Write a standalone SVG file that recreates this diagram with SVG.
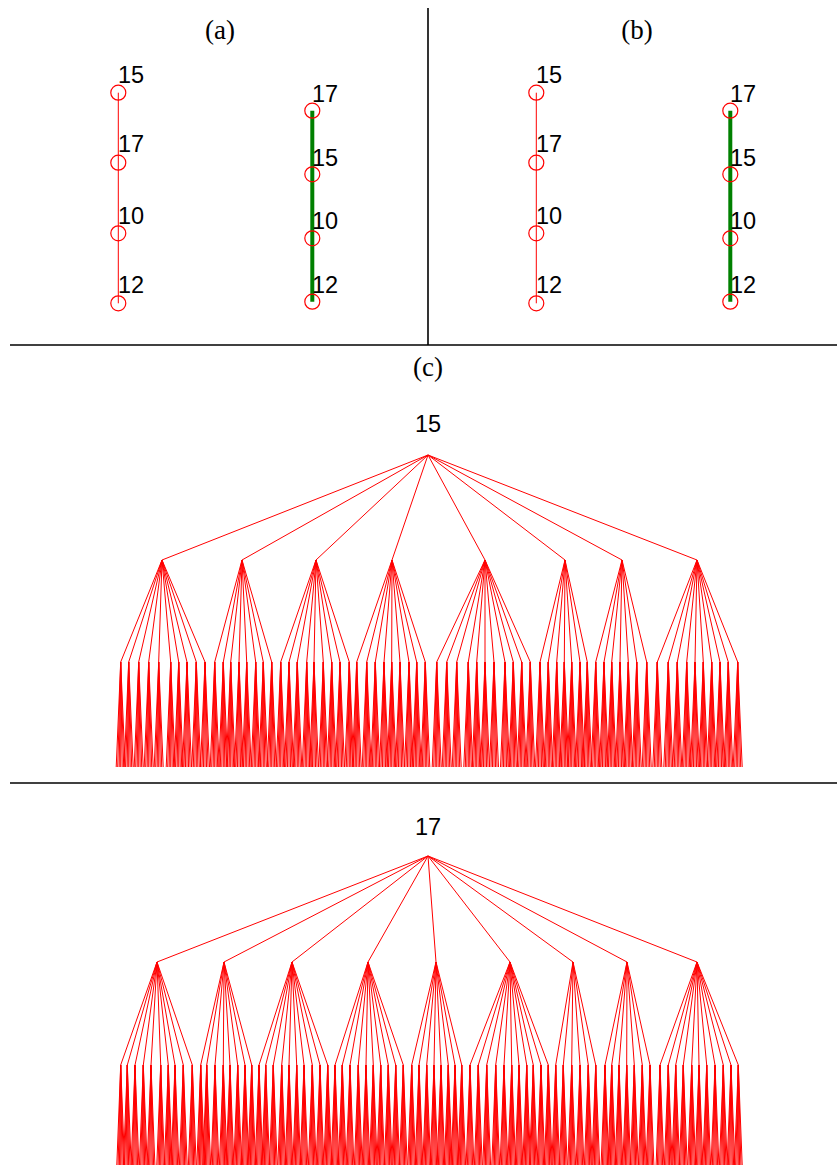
<svg xmlns="http://www.w3.org/2000/svg" xmlns:xlink="http://www.w3.org/1999/xlink" width="837" height="1166" viewBox="0 0 837 1166">
<style>
.bg{fill:#fff}
.div{stroke:#000;stroke-width:1.6;fill:none}
.cap{font-family:"Liberation Serif","Times New Roman",serif;font-size:27px;fill:#000;text-anchor:middle}
.lbl{font-family:"Liberation Sans",Arial,sans-serif;font-size:23.5px;fill:#000}
.root{font-family:"Liberation Sans",Arial,sans-serif;font-size:23.5px;fill:#000;text-anchor:middle}
.nd{fill:none;stroke:#ff0000;stroke-width:1.2}
.thin{stroke:#ff0000;stroke-width:1;fill:none}
.path{stroke:#008000;stroke-width:4;fill:none}
.e{stroke:#ff0000;stroke-width:1;fill:none}
</style>
<defs>
<path id="fanTop" class="e" d="M0 0L-4.5 105M0 0L-3 105M0 0L-1.5 105M0 0L0 105M0 0L1.5 105M0 0L3 105M0 0L4.5 105"/>
<path id="fanBot" class="e" d="M0 0L-3.9 100M0 0L-2.6 100M0 0L-1.3 100M0 0L0 100M0 0L1.3 100M0 0L2.6 100M0 0L3.9 100"/>
</defs>
<rect class="bg" x="0" y="0" width="837" height="1166"/>
<g id="dividers">
<line class="div" x1="428" y1="8" x2="428" y2="345"/>
<line class="div" x1="10" y1="345" x2="837" y2="345"/>
<line class="div" x1="10" y1="783" x2="837" y2="783"/>
</g>
<g id="captions">
<text class="cap" x="220" y="39">(a)</text>
<text class="cap" x="637" y="39">(b)</text>
<text class="cap" x="428" y="376">(c)</text>
</g>
<g id="connectors">
<line class="thin" x1="118.3" y1="92.7" x2="118.3" y2="303.3"/>
<line class="path" x1="312.3" y1="110.7" x2="312.3" y2="301.7"/>
<line class="thin" x1="536.3" y1="92.7" x2="536.3" y2="303.3"/>
<line class="path" x1="730.3" y1="110.7" x2="730.3" y2="301.7"/>
<path class="e" d="M428 455L162 560M428 455L242 560M428 455L316 560M428 455L392 560M428 455L485 560M428 455L565 560M428 455L622 560M428 455L697 560
M162 560L120.7 662M162 560L128.7 662M162 560L138.7 662M162 560L148.7 662M162 560L158.7 662M162 560L170.7 662M162 560L178.7 662M162 560L187 662M162 560L196.3 662M162 560L205 662
M242 560L214.7 662M242 560L223.3 662M242 560L230.7 662M242 560L239 662M242 560L246.7 662M242 560L255.7 662M242 560L263.3 662M242 560L271.7 662
M316 560L280.7 662M316 560L289 662M316 560L297.3 662M316 560L306.7 662M316 560L314 662M316 560L323.3 662M316 560L331.7 662M316 560L340 662M316 560L349.3 662
M392 560L356.7 662M392 560L366.7 662M392 560L375.3 662M392 560L384 662M392 560L391.7 662M392 560L400 662M392 560L409 662M392 560L416.7 662M392 560L425.3 662
M485 560L436.7 662M485 560L446.7 662M485 560L456.7 662M485 560L468.3 662M485 560L476.7 662M485 560L485 662M485 560L494 662M485 560L505 662M485 560L513.3 662M485 560L521.7 662M485 560L530.3 662
M565 560L540 662M565 560L548.3 662M565 560L556.7 662M565 560L564.3 662M565 560L571.7 662M565 560L580 662M565 560L587.3 662
M622 560L595.7 662M622 560L604 662M622 560L611.7 662M622 560L620 662M622 560L628.3 662M622 560L636.7 662M622 560L646.7 662
M697 560L657.3 662M697 560L668.3 662M697 560L677.3 662M697 560L686.7 662M697 560L695 662M697 560L703.3 662M697 560L711.7 662M697 560L720 662M697 560L728.3 662M697 560L737.7 662"/>
<g id="fans-top">
<use xlink:href="#fanTop" x="120.7" y="662"/><use xlink:href="#fanTop" x="128.7" y="662"/><use xlink:href="#fanTop" x="138.7" y="662"/><use xlink:href="#fanTop" x="148.7" y="662"/><use xlink:href="#fanTop" x="158.7" y="662"/><use xlink:href="#fanTop" x="170.7" y="662"/><use xlink:href="#fanTop" x="178.7" y="662"/><use xlink:href="#fanTop" x="187" y="662"/><use xlink:href="#fanTop" x="196.3" y="662"/><use xlink:href="#fanTop" x="205" y="662"/>
<use xlink:href="#fanTop" x="214.7" y="662"/><use xlink:href="#fanTop" x="223.3" y="662"/><use xlink:href="#fanTop" x="230.7" y="662"/><use xlink:href="#fanTop" x="239" y="662"/><use xlink:href="#fanTop" x="246.7" y="662"/><use xlink:href="#fanTop" x="255.7" y="662"/><use xlink:href="#fanTop" x="263.3" y="662"/><use xlink:href="#fanTop" x="271.7" y="662"/>
<use xlink:href="#fanTop" x="280.7" y="662"/><use xlink:href="#fanTop" x="289" y="662"/><use xlink:href="#fanTop" x="297.3" y="662"/><use xlink:href="#fanTop" x="306.7" y="662"/><use xlink:href="#fanTop" x="314" y="662"/><use xlink:href="#fanTop" x="323.3" y="662"/><use xlink:href="#fanTop" x="331.7" y="662"/><use xlink:href="#fanTop" x="340" y="662"/><use xlink:href="#fanTop" x="349.3" y="662"/>
<use xlink:href="#fanTop" x="356.7" y="662"/><use xlink:href="#fanTop" x="366.7" y="662"/><use xlink:href="#fanTop" x="375.3" y="662"/><use xlink:href="#fanTop" x="384" y="662"/><use xlink:href="#fanTop" x="391.7" y="662"/><use xlink:href="#fanTop" x="400" y="662"/><use xlink:href="#fanTop" x="409" y="662"/><use xlink:href="#fanTop" x="416.7" y="662"/><use xlink:href="#fanTop" x="425.3" y="662"/>
<use xlink:href="#fanTop" x="436.7" y="662"/><use xlink:href="#fanTop" x="446.7" y="662"/><use xlink:href="#fanTop" x="456.7" y="662"/><use xlink:href="#fanTop" x="468.3" y="662"/><use xlink:href="#fanTop" x="476.7" y="662"/><use xlink:href="#fanTop" x="485" y="662"/><use xlink:href="#fanTop" x="494" y="662"/><use xlink:href="#fanTop" x="505" y="662"/><use xlink:href="#fanTop" x="513.3" y="662"/><use xlink:href="#fanTop" x="521.7" y="662"/><use xlink:href="#fanTop" x="530.3" y="662"/>
<use xlink:href="#fanTop" x="540" y="662"/><use xlink:href="#fanTop" x="548.3" y="662"/><use xlink:href="#fanTop" x="556.7" y="662"/><use xlink:href="#fanTop" x="564.3" y="662"/><use xlink:href="#fanTop" x="571.7" y="662"/><use xlink:href="#fanTop" x="580" y="662"/><use xlink:href="#fanTop" x="587.3" y="662"/>
<use xlink:href="#fanTop" x="595.7" y="662"/><use xlink:href="#fanTop" x="604" y="662"/><use xlink:href="#fanTop" x="611.7" y="662"/><use xlink:href="#fanTop" x="620" y="662"/><use xlink:href="#fanTop" x="628.3" y="662"/><use xlink:href="#fanTop" x="636.7" y="662"/><use xlink:href="#fanTop" x="646.7" y="662"/>
<use xlink:href="#fanTop" x="657.3" y="662"/><use xlink:href="#fanTop" x="668.3" y="662"/><use xlink:href="#fanTop" x="677.3" y="662"/><use xlink:href="#fanTop" x="686.7" y="662"/><use xlink:href="#fanTop" x="695" y="662"/><use xlink:href="#fanTop" x="703.3" y="662"/><use xlink:href="#fanTop" x="711.7" y="662"/><use xlink:href="#fanTop" x="720" y="662"/><use xlink:href="#fanTop" x="728.3" y="662"/><use xlink:href="#fanTop" x="737.7" y="662"/>
</g>
<path class="e" d="M428 856L157 962M428 856L224 962M428 856L292 962M428 856L368 962M428 856L436 962M428 856L510 962M428 856L573 962M428 856L627 962M428 856L697 962
M157 962L120.7 1065M157 962L127.3 1065M157 962L135 1065M157 962L143.3 1065M157 962L151 1065M157 962L160.7 1065M157 962L168.3 1065M157 962L175 1065M157 962L183.3 1065M157 962L192.3 1065
M224 962L200.7 1065M224 962L206.7 1065M224 962L215 1065M224 962L223.3 1065M224 962L230 1065M224 962L237.7 1065M224 962L245 1065M224 962L251.7 1065
M292 962L259 1065M292 962L265.7 1065M292 962L273.3 1065M292 962L281.7 1065M292 962L289 1065M292 962L296.7 1065M292 962L304 1065M292 962L312.3 1065M292 962L320 1065M292 962L327.7 1065
M368 962L335 1065M368 962L342.3 1065M368 962L350 1065M368 962L358.3 1065M368 962L366 1065M368 962L373.3 1065M368 962L380.7 1065M368 962L388.3 1065M368 962L395.7 1065M368 962L403.3 1065
M436 962L411.7 1065M436 962L419 1065M436 962L426.7 1065M436 962L434 1065M436 962L441 1065M436 962L448.3 1065M436 962L455 1065M436 962L461.7 1065
M510 962L470 1065M510 962L478.3 1065M510 962L486.7 1065M510 962L495.7 1065M510 962L504 1065M510 962L511.7 1065M510 962L519 1065M510 962L526.7 1065M510 962L533.3 1065M510 962L541 1065M510 962L548.3 1065
M573 962L555.7 1065M573 962L563.3 1065M573 962L571.7 1065M573 962L580 1065M573 962L588.3 1065M573 962L595.7 1065
M627 962L605 1065M627 962L611.7 1065M627 962L619 1065M627 962L626.7 1065M627 962L634.3 1065M627 962L642.3 1065M627 962L650 1065
M697 962L660 1065M697 962L668.3 1065M697 962L675.7 1065M697 962L683.3 1065M697 962L691.7 1065M697 962L699 1065M697 962L706.7 1065M697 962L715 1065M697 962L723.3 1065M697 962L731 1065M697 962L738.3 1065"/>
<g id="fans-bottom">
<use xlink:href="#fanBot" x="120.7" y="1065"/><use xlink:href="#fanBot" x="127.3" y="1065"/><use xlink:href="#fanBot" x="135" y="1065"/><use xlink:href="#fanBot" x="143.3" y="1065"/><use xlink:href="#fanBot" x="151" y="1065"/><use xlink:href="#fanBot" x="160.7" y="1065"/><use xlink:href="#fanBot" x="168.3" y="1065"/><use xlink:href="#fanBot" x="175" y="1065"/><use xlink:href="#fanBot" x="183.3" y="1065"/><use xlink:href="#fanBot" x="192.3" y="1065"/>
<use xlink:href="#fanBot" x="200.7" y="1065"/><use xlink:href="#fanBot" x="206.7" y="1065"/><use xlink:href="#fanBot" x="215" y="1065"/><use xlink:href="#fanBot" x="223.3" y="1065"/><use xlink:href="#fanBot" x="230" y="1065"/><use xlink:href="#fanBot" x="237.7" y="1065"/><use xlink:href="#fanBot" x="245" y="1065"/><use xlink:href="#fanBot" x="251.7" y="1065"/>
<use xlink:href="#fanBot" x="259" y="1065"/><use xlink:href="#fanBot" x="265.7" y="1065"/><use xlink:href="#fanBot" x="273.3" y="1065"/><use xlink:href="#fanBot" x="281.7" y="1065"/><use xlink:href="#fanBot" x="289" y="1065"/><use xlink:href="#fanBot" x="296.7" y="1065"/><use xlink:href="#fanBot" x="304" y="1065"/><use xlink:href="#fanBot" x="312.3" y="1065"/><use xlink:href="#fanBot" x="320" y="1065"/><use xlink:href="#fanBot" x="327.7" y="1065"/>
<use xlink:href="#fanBot" x="335" y="1065"/><use xlink:href="#fanBot" x="342.3" y="1065"/><use xlink:href="#fanBot" x="350" y="1065"/><use xlink:href="#fanBot" x="358.3" y="1065"/><use xlink:href="#fanBot" x="366" y="1065"/><use xlink:href="#fanBot" x="373.3" y="1065"/><use xlink:href="#fanBot" x="380.7" y="1065"/><use xlink:href="#fanBot" x="388.3" y="1065"/><use xlink:href="#fanBot" x="395.7" y="1065"/><use xlink:href="#fanBot" x="403.3" y="1065"/>
<use xlink:href="#fanBot" x="411.7" y="1065"/><use xlink:href="#fanBot" x="419" y="1065"/><use xlink:href="#fanBot" x="426.7" y="1065"/><use xlink:href="#fanBot" x="434" y="1065"/><use xlink:href="#fanBot" x="441" y="1065"/><use xlink:href="#fanBot" x="448.3" y="1065"/><use xlink:href="#fanBot" x="455" y="1065"/><use xlink:href="#fanBot" x="461.7" y="1065"/>
<use xlink:href="#fanBot" x="470" y="1065"/><use xlink:href="#fanBot" x="478.3" y="1065"/><use xlink:href="#fanBot" x="486.7" y="1065"/><use xlink:href="#fanBot" x="495.7" y="1065"/><use xlink:href="#fanBot" x="504" y="1065"/><use xlink:href="#fanBot" x="511.7" y="1065"/><use xlink:href="#fanBot" x="519" y="1065"/><use xlink:href="#fanBot" x="526.7" y="1065"/><use xlink:href="#fanBot" x="533.3" y="1065"/><use xlink:href="#fanBot" x="541" y="1065"/><use xlink:href="#fanBot" x="548.3" y="1065"/>
<use xlink:href="#fanBot" x="555.7" y="1065"/><use xlink:href="#fanBot" x="563.3" y="1065"/><use xlink:href="#fanBot" x="571.7" y="1065"/><use xlink:href="#fanBot" x="580" y="1065"/><use xlink:href="#fanBot" x="588.3" y="1065"/><use xlink:href="#fanBot" x="595.7" y="1065"/>
<use xlink:href="#fanBot" x="605" y="1065"/><use xlink:href="#fanBot" x="611.7" y="1065"/><use xlink:href="#fanBot" x="619" y="1065"/><use xlink:href="#fanBot" x="626.7" y="1065"/><use xlink:href="#fanBot" x="634.3" y="1065"/><use xlink:href="#fanBot" x="642.3" y="1065"/><use xlink:href="#fanBot" x="650" y="1065"/>
<use xlink:href="#fanBot" x="660" y="1065"/><use xlink:href="#fanBot" x="668.3" y="1065"/><use xlink:href="#fanBot" x="675.7" y="1065"/><use xlink:href="#fanBot" x="683.3" y="1065"/><use xlink:href="#fanBot" x="691.7" y="1065"/><use xlink:href="#fanBot" x="699" y="1065"/><use xlink:href="#fanBot" x="706.7" y="1065"/><use xlink:href="#fanBot" x="715" y="1065"/><use xlink:href="#fanBot" x="723.3" y="1065"/><use xlink:href="#fanBot" x="731" y="1065"/><use xlink:href="#fanBot" x="738.3" y="1065"/>
</g>
</g>
<g id="a-l15"><circle class="nd" cx="118.3" cy="92.7" r="7.5"/><text class="lbl" x="118" y="83">15</text></g>
<g id="a-l17"><circle class="nd" cx="118.3" cy="162.7" r="7.5"/><text class="lbl" x="118" y="152">17</text></g>
<g id="a-l10"><circle class="nd" cx="118.3" cy="233.3" r="7.5"/><text class="lbl" x="118" y="224">10</text></g>
<g id="a-l12"><circle class="nd" cx="118.3" cy="303.3" r="7.5"/><text class="lbl" x="118" y="293">12</text></g>
<g id="a-r17"><circle class="nd" cx="312.3" cy="110.7" r="7.5"/><text class="lbl" x="312" y="102">17</text></g>
<g id="a-r15"><circle class="nd" cx="312.3" cy="174.3" r="7.5"/><text class="lbl" x="312" y="166">15</text></g>
<g id="a-r10"><circle class="nd" cx="312.3" cy="238.3" r="7.5"/><text class="lbl" x="312" y="229">10</text></g>
<g id="a-r12"><circle class="nd" cx="312.3" cy="301.7" r="7.5"/><text class="lbl" x="312" y="293">12</text></g>
<g id="b-l15"><circle class="nd" cx="536.3" cy="92.7" r="7.5"/><text class="lbl" x="536" y="83">15</text></g>
<g id="b-l17"><circle class="nd" cx="536.3" cy="162.7" r="7.5"/><text class="lbl" x="536" y="152">17</text></g>
<g id="b-l10"><circle class="nd" cx="536.3" cy="233.3" r="7.5"/><text class="lbl" x="536" y="224">10</text></g>
<g id="b-l12"><circle class="nd" cx="536.3" cy="303.3" r="7.5"/><text class="lbl" x="536" y="293">12</text></g>
<g id="b-r17"><circle class="nd" cx="730.3" cy="110.7" r="7.5"/><text class="lbl" x="730" y="102">17</text></g>
<g id="b-r15"><circle class="nd" cx="730.3" cy="174.3" r="7.5"/><text class="lbl" x="730" y="166">15</text></g>
<g id="b-r10"><circle class="nd" cx="730.3" cy="238.3" r="7.5"/><text class="lbl" x="730" y="229">10</text></g>
<g id="b-r12"><circle class="nd" cx="730.3" cy="301.7" r="7.5"/><text class="lbl" x="730" y="293">12</text></g>
<g id="tree1-root"><text class="root" x="428" y="432">15</text></g>
<g id="tree2-root"><text class="root" x="428" y="835">17</text></g>
</svg>
